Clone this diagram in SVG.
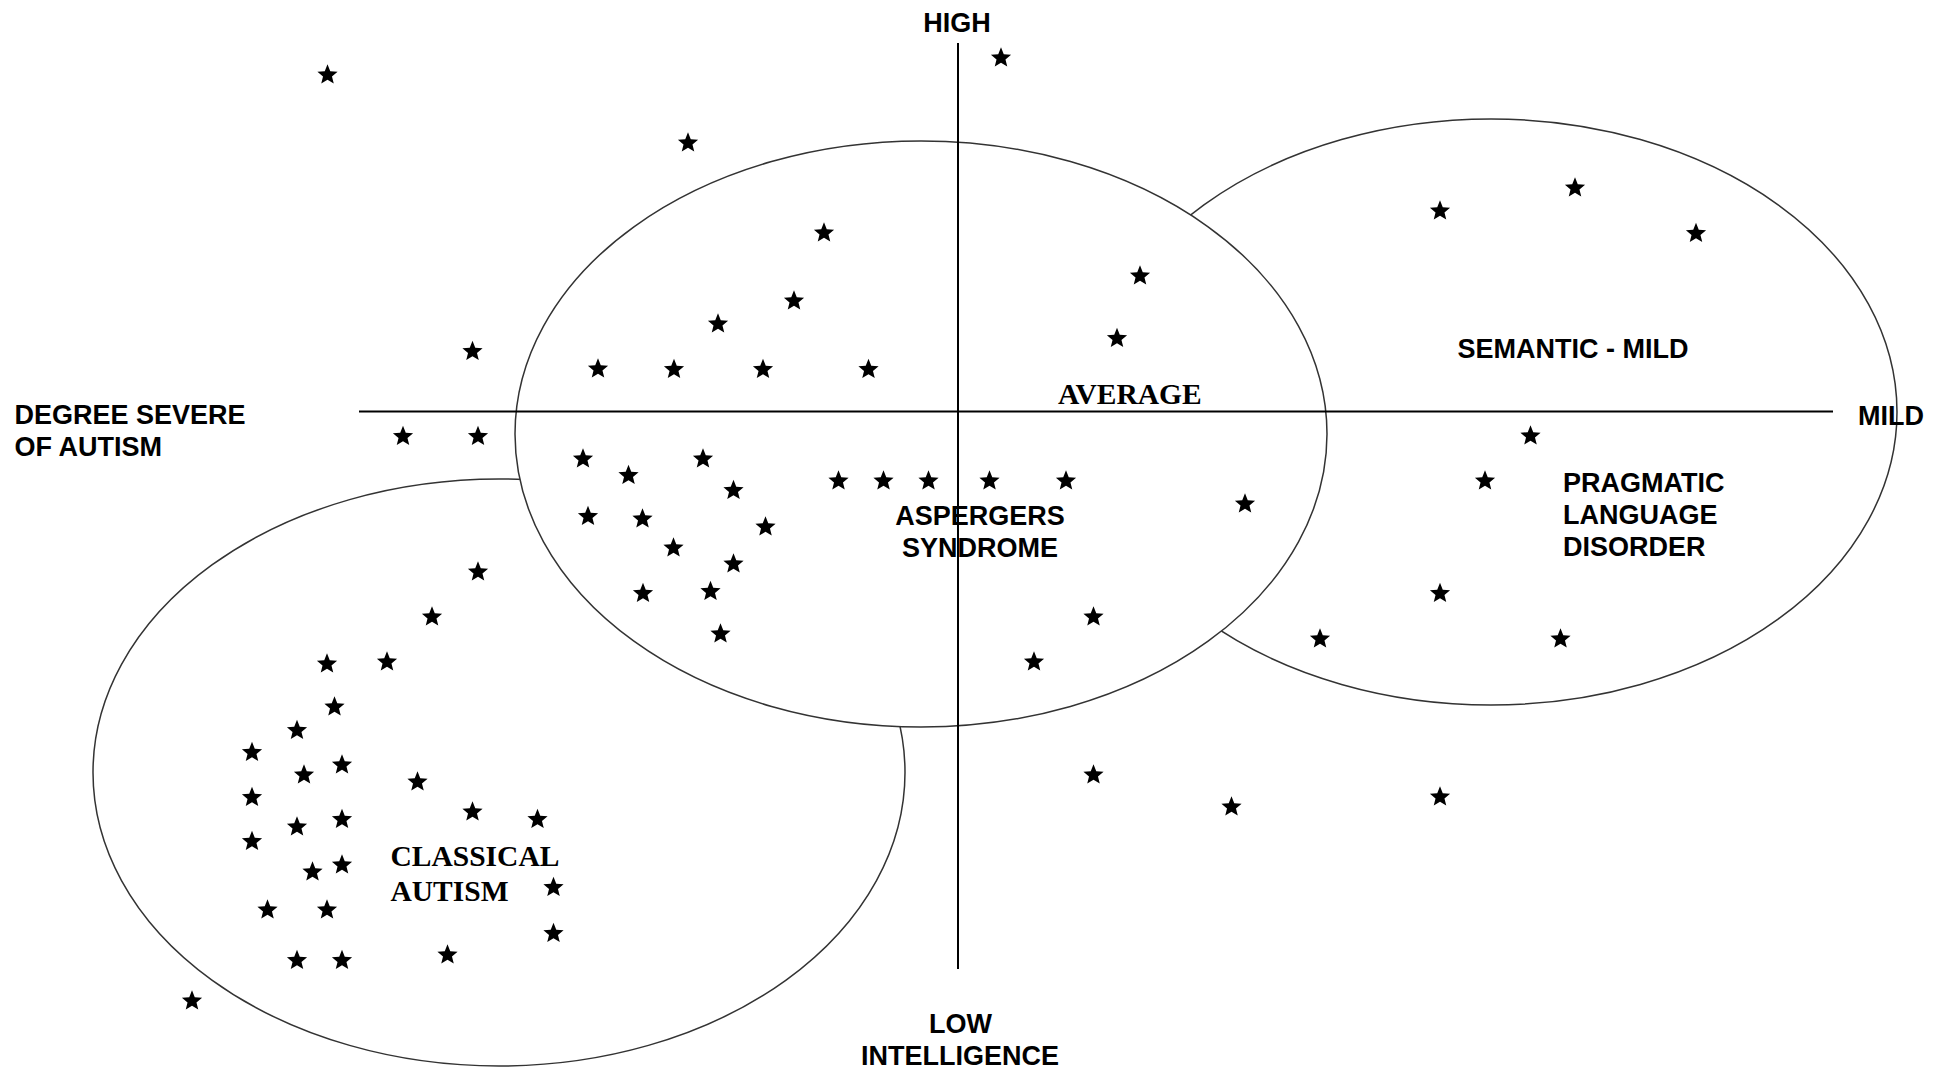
<svg xmlns="http://www.w3.org/2000/svg" xmlns:xlink="http://www.w3.org/1999/xlink" width="1946" height="1074" viewBox="0 0 1946 1074">
<style>
.bg{fill:#ffffff}
.region{fill:#ffffff;stroke:#333333;stroke-width:1.5}
.axis{stroke:#000000;stroke-width:2;fill:none}
.lab{font-family:"Liberation Sans",Arial,sans-serif;font-weight:bold;font-size:27px;fill:#000000}
.ser{font-family:"Liberation Serif","Times New Roman",serif;font-weight:bold;font-size:29.5px;fill:#000000}
.pt{fill:#000000}
</style>
<defs>
<path id="star" d="M0,-9.7 L2.76,-2.8 L10.1,-2.25 L4.47,2.45 L6.25,9.6 L0,5.7 L-6.25,9.6 L-4.47,2.45 L-10.1,-2.25 L-2.76,-2.8 Z"/>
</defs>
<rect class="bg" x="0" y="0" width="1946" height="1074"/>

<g id="classical-autism">
<ellipse class="region" cx="499" cy="772.5" rx="406" ry="293.5"/>
</g>
<g id="semantic-pragmatic">
<ellipse class="region" cx="1491" cy="412" rx="406" ry="293"/>
</g>
<g id="aspergers">
<ellipse class="region" cx="921" cy="434" rx="406" ry="293"/>
</g>

<g id="connectors">
<line class="axis" x1="359" y1="411.5" x2="1833" y2="411.5"/>
<line class="axis" x1="958" y1="43" x2="958" y2="969"/>
</g>

<g id="labels">
<g id="label-high"><text class="lab" x="957" y="32" text-anchor="middle">HIGH</text></g>
<g id="label-severe"><text class="lab" x="14.5" y="424">DEGREE SEVERE</text><text class="lab" x="14.5" y="456">OF AUTISM</text></g>
<g id="label-mild"><text class="lab" x="1858" y="425">MILD</text></g>
<g id="label-low"><text class="lab" x="960.5" y="1032.5" text-anchor="middle">LOW</text><text class="lab" x="960" y="1064.5" text-anchor="middle">INTELLIGENCE</text></g>
<g id="label-average"><text class="ser" x="1058" y="403.5">AVERAGE</text></g>
<g id="label-semantic"><text class="lab" x="1457.5" y="357.5">SEMANTIC - MILD</text></g>
<g id="label-pragmatic"><text class="lab" x="1563" y="492">PRAGMATIC</text><text class="lab" x="1563" y="524">LANGUAGE</text><text class="lab" x="1563" y="556">DISORDER</text></g>
<g id="label-aspergers"><text class="lab" x="980" y="524.5" text-anchor="middle">ASPERGERS</text><text class="lab" x="980" y="557" text-anchor="middle">SYNDROME</text></g>
<g id="label-classical"><text class="ser" x="390.5" y="866">CLASSICAL</text><text class="ser" x="390.5" y="901">AUTISM</text></g>
</g>

<g id="points" class="pt">
<use href="#star" x="327.5" y="74"/>
<use href="#star" x="1001" y="57"/>
<use href="#star" x="688" y="142"/>
<use href="#star" x="824" y="232"/>
<use href="#star" x="1140" y="275"/>
<use href="#star" x="794" y="300"/>
<use href="#star" x="718" y="323"/>
<use href="#star" x="1117" y="337.5"/>
<use href="#star" x="472.5" y="350.5"/>
<use href="#star" x="598" y="368"/>
<use href="#star" x="674" y="368.5"/>
<use href="#star" x="763" y="368.5"/>
<use href="#star" x="868.5" y="368.5"/>
<use href="#star" x="1440" y="210"/>
<use href="#star" x="1575" y="187"/>
<use href="#star" x="1696" y="232.5"/>
<use href="#star" x="403" y="435.5"/>
<use href="#star" x="478" y="435.5"/>
<use href="#star" x="1530.5" y="435"/>
<use href="#star" x="583" y="458"/>
<use href="#star" x="628.5" y="474.5"/>
<use href="#star" x="703" y="458"/>
<use href="#star" x="733.5" y="489.5"/>
<use href="#star" x="838.5" y="480"/>
<use href="#star" x="883.5" y="480"/>
<use href="#star" x="928.5" y="480"/>
<use href="#star" x="989.5" y="480"/>
<use href="#star" x="1066" y="480"/>
<use href="#star" x="1485" y="480"/>
<use href="#star" x="1245" y="503"/>
<use href="#star" x="588" y="515.5"/>
<use href="#star" x="642.5" y="518"/>
<use href="#star" x="765.5" y="526"/>
<use href="#star" x="673.5" y="547"/>
<use href="#star" x="733.5" y="563"/>
<use href="#star" x="478" y="571"/>
<use href="#star" x="643" y="592.5"/>
<use href="#star" x="710.5" y="590.5"/>
<use href="#star" x="432" y="616"/>
<use href="#star" x="1093.5" y="616"/>
<use href="#star" x="1440" y="592.5"/>
<use href="#star" x="720.5" y="633"/>
<use href="#star" x="327" y="663"/>
<use href="#star" x="387" y="661"/>
<use href="#star" x="1034" y="661"/>
<use href="#star" x="1320" y="638"/>
<use href="#star" x="1560.5" y="638"/>
<use href="#star" x="334.5" y="706"/>
<use href="#star" x="297" y="729.5"/>
<use href="#star" x="252" y="751.5"/>
<use href="#star" x="342" y="764"/>
<use href="#star" x="304" y="774"/>
<use href="#star" x="417.5" y="781"/>
<use href="#star" x="1093.5" y="774"/>
<use href="#star" x="1440" y="796"/>
<use href="#star" x="1231.5" y="806"/>
<use href="#star" x="252" y="796.5"/>
<use href="#star" x="472.5" y="811"/>
<use href="#star" x="537.5" y="818.5"/>
<use href="#star" x="297" y="826"/>
<use href="#star" x="342" y="818.5"/>
<use href="#star" x="252" y="840.5"/>
<use href="#star" x="342" y="864"/>
<use href="#star" x="312.5" y="871"/>
<use href="#star" x="553.5" y="886.5"/>
<use href="#star" x="267.5" y="909"/>
<use href="#star" x="327" y="909"/>
<use href="#star" x="553.5" y="932.5"/>
<use href="#star" x="297" y="959.5"/>
<use href="#star" x="342" y="959.5"/>
<use href="#star" x="447.5" y="954"/>
<use href="#star" x="192" y="1000"/>
</g>
</svg>
